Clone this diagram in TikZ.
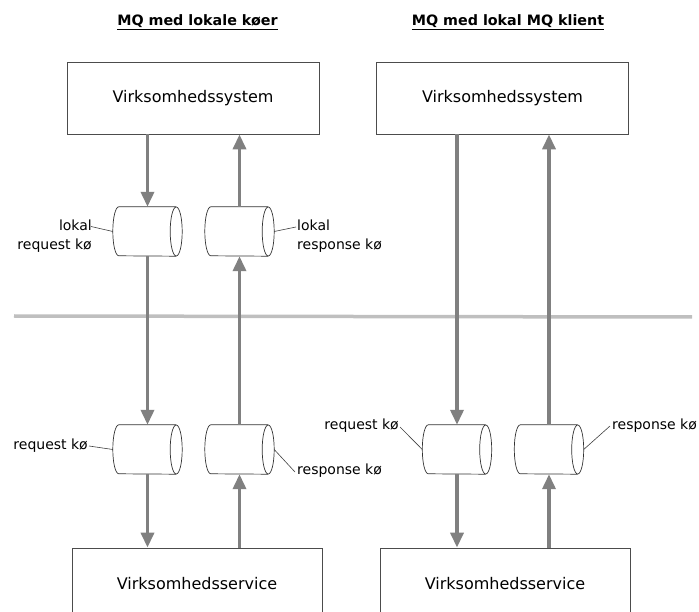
\documentclass[tikz,border=0pt]{standalone}
\usepackage{fontspec}
\setmainfont{DejaVu Sans}
\usetikzlibrary{positioning,calc,arrows.meta}

% koe: navn, position
\newcommand{\koe}[2]{%
	\node[queue] (#1) at (#2) {};
	\draw[queueline] (#1.north east) -- (#1.north west)
		arc[start angle=90,end angle=270,x radius=6pt,y radius=24.5pt] -- (#1.south east);
	\draw[queueline] (#1.east) ellipse[x radius=6pt,y radius=24.5pt];
}

\begin{document}
\begin{tikzpicture}[x=1pt,y=-1pt,
		sysbox/.style={draw=black!70,line width=0.8pt,minimum width=252pt,minimum height=72pt,inner sep=0pt,font=\fontsize{16}{19}\selectfont},
		queue/.style={minimum width=57pt,minimum height=49pt,inner sep=0pt},
		queueline/.style={draw=black!80,line width=0.7pt,fill=white},
		flow/.style={draw=black!50,line width=3.5pt,-{Triangle[length=15pt,width=13pt]}},
		lbl/.style={font=\fontsize{14}{19}\selectfont,inner sep=0pt},
		lead/.style={draw=black!75,line width=0.6pt},
		heading/.style={font=\fontsize{14.3}{17}\selectfont\bfseries}]
		\useasboundingbox (0,0) rectangle (699,612);
		\node[heading] (hleft) at (197.5,22) {\underline{MQ med lokale køer}};
		\node[heading] (hright) at (508,22) {\underline{MQ med lokal MQ klient}};
		\node[sysbox] (sysL) at (193,98) {Virksomhedssystem};
		\node[sysbox] (sysR) at (502.5,98) {Virksomhedssystem};
		\node[sysbox,minimum width=250pt] (srvL) at (197,584) {Virksomhedsservice};
		\node[sysbox,minimum width=250pt] (srvR) at (505,584) {Virksomhedsservice};
		% skillelinje
		\draw[draw=black!25,line width=3.5pt] (14,316) -- (692,317);
		\koe{lreq}{147.5,231.5}
		\koe{lres}{239.5,231.5}
		\koe{req}{147.5,449.5}
		\koe{res}{239.5,449.5}
		\koe{kreq}{457,449.5}
		\koe{kres}{549,449.5}
		% request
		\draw[flow] (sysL.south -| lreq.north) -- (lreq.north);
		\draw[flow] (lreq.south) -- (req.north);
		\draw[flow] (req.south) -- (srvL.north -| req.south);
		\draw[flow] (sysR.south -| kreq.north) -- (kreq.north);
		\draw[flow] (kreq.south) -- (srvR.north -| kreq.south);
		% response
		\draw[flow] (srvL.north -| res.south) -- (res.south);
		\draw[flow] (res.north) -- (lres.south);
		\draw[flow] (lres.north) -- (sysL.south -| lres.north);
		\draw[flow] (srvR.north -| kres.south) -- (kres.south);
		\draw[flow] (kres.north) -- (sysR.south -| kres.north);
		% labels
		\node[lbl,anchor=east,align=right] (tlreq) at (92,236.5) {lokal\\request kø};
		\node[lbl,anchor=west,align=left] (tlres) at (297,236.5) {lokal\\response kø};
		\node[lbl,anchor=east] (treq) at (88,446) {request kø};
		\node[lbl,anchor=west] (tres) at (297,471) {response kø};
		\node[lbl,anchor=east] (tkreq) at (399,426) {request kø};
		\node[lbl,anchor=west] (tkres) at (612,426) {response kø};
		\coordinate (c1) at (91,226.5);
		\coordinate (c2) at (296,227);
		\coordinate (c3) at (89,446);
		\coordinate (c4) at (295,472);
		\coordinate (c5) at (400,427);
		\coordinate (c6) at (610,426);
		\draw[lead] (c1) -- ([xshift=-6pt]lreq.west);
		\draw[lead] ([xshift=6pt]lres.east) -- (c2);
		\draw[lead] (c3) -- ([xshift=-6pt]req.west);
		\draw[lead] ([xshift=6pt]res.east) -- (c4);
		\draw[lead] (c5) -- ([xshift=-6pt]kreq.west);
		\draw[lead] ([xshift=6pt]kres.east) -- (c6);
	\end{tikzpicture}
\end{document}
